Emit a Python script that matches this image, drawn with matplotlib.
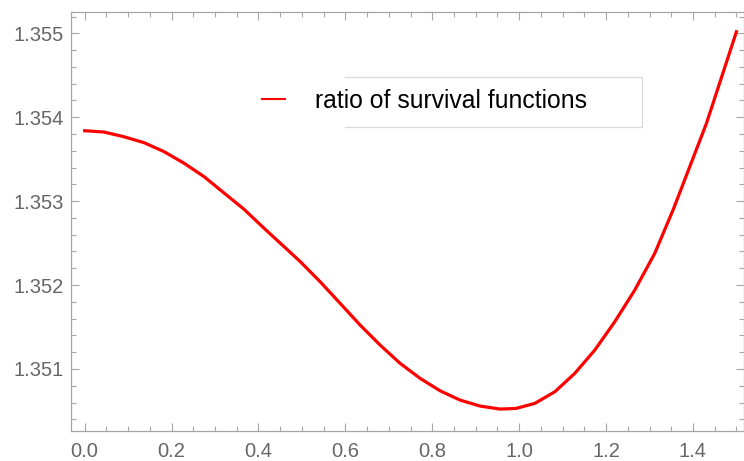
import matplotlib
matplotlib.use("Agg")
import matplotlib.pyplot as plt
from matplotlib.ticker import MultipleLocator, FormatStrFormatter

# values
x_vals = [0.0, 0.044, 0.090, 0.137, 0.183, 0.229, 0.275, 0.320, 0.367, 0.413,
          0.459, 0.496, 0.542, 0.588, 0.634, 0.680, 0.726, 0.772, 0.818, 0.864,
          0.910, 0.956, 0.993, 1.036, 1.082, 1.128, 1.174, 1.220, 1.266, 1.312,
          1.355, 1.431, 1.500]
ratio_vals = [1.353839, 1.353824, 1.353768, 1.353696, 1.353589, 1.353451, 1.353291,
              1.353100, 1.352902, 1.352676, 1.352457, 1.352280, 1.352039, 1.351782,
              1.351523, 1.351285, 1.351067, 1.350888, 1.350740, 1.350629, 1.350558,
              1.350522, 1.350530, 1.350590, 1.350728, 1.350948, 1.351225, 1.351563,
              1.351940, 1.352378, 1.352906, 1.353927, 1.355019]
legend_label = "ratio of survival functions"

plt.rcParams['font.family'] = ['Liberation Sans', 'DejaVu Sans']

fig = plt.figure(figsize=(7.44, 4.61), dpi=100)
ax = fig.add_axes([0.0954, 0.0651, 0.9046, 0.9089])

line, = ax.plot(x_vals, ratio_vals, color='red', lw=2.3, label=legend_label,
                solid_joinstyle='round')

ax.set_xlim(-0.0315, 1.5174)
ax.set_ylim(1.350261, 1.355254)

ax.xaxis.set_major_locator(MultipleLocator(0.2))
ax.xaxis.set_minor_locator(MultipleLocator(0.05))
ax.yaxis.set_major_locator(MultipleLocator(0.001))
ax.yaxis.set_minor_locator(MultipleLocator(0.0002))
ax.xaxis.set_major_formatter(FormatStrFormatter('%.1f'))
ax.yaxis.set_major_formatter(FormatStrFormatter('%.3f'))

frame_col = '#a6a6a6'
for s in ax.spines.values():
    s.set_color(frame_col)
    s.set_linewidth(0.9)
ax.tick_params(which='both', direction='in', top=True, right=True,
               color=frame_col, width=0.8, labelcolor='#666666', labelsize=14.5)
ax.tick_params(which='major', length=6)
ax.tick_params(which='minor', length=3.5)
ax.tick_params(axis='x', pad=8)
ax.tick_params(axis='y', pad=5)

# legend (Mathematica style, box partly behind the text)
leg = ax.legend(handles=[line], loc='center left', bbox_to_anchor=(0.284, 0.7876),
                frameon=False, fontsize=17.8, borderpad=0, borderaxespad=0,
                handlelength=0.93, handletextpad=1.2)
leg.get_lines()[0].set_linewidth(1.5)

box_col = '#d9d9d9'
bx0, bx1, by0, by1 = 0.407, 0.848, 0.7255, 0.845
ax.plot([bx0, bx1, bx1, bx0], [by1, by1, by0, by0], color=box_col, lw=0.9,
        transform=ax.transAxes, zorder=1)

fig.savefig('out.png', dpi=100)
